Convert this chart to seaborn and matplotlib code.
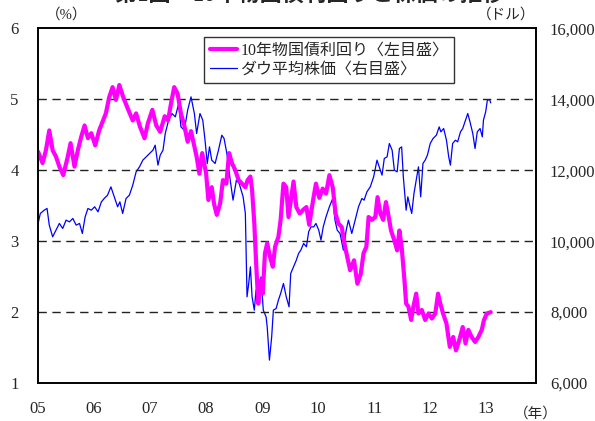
import numpy as np
import pandas as pd
import seaborn as sns
import matplotlib.pyplot as plt

sns.set_style("white")
plt.rcParams["font.family"] = ["Liberation Serif", "Noto Sans CJK JP"]

# 10-year treasury yield (%), time in decimal years
yield_t = [2005.00, 2005.08, 2005.14, 2005.20, 2005.26, 2005.32, 2005.38, 2005.45, 2005.53, 2005.58,
           2005.65, 2005.71, 2005.77, 2005.83, 2005.89, 2005.95, 2006.02, 2006.09, 2006.16, 2006.21,
           2006.27, 2006.33, 2006.39, 2006.45, 2006.52, 2006.60, 2006.69, 2006.75, 2006.82, 2006.90,
           2006.96, 2007.04, 2007.11, 2007.18, 2007.26, 2007.32, 2007.38, 2007.43, 2007.49, 2007.55,
           2007.61, 2007.67, 2007.73, 2007.83, 2007.88, 2007.93, 2008.00, 2008.04, 2008.10, 2008.14,
           2008.19, 2008.25, 2008.30, 2008.36, 2008.41, 2008.46, 2008.52, 2008.58, 2008.64, 2008.70,
           2008.74, 2008.79, 2008.82, 2008.86, 2008.89, 2008.93, 2008.98, 2009.01, 2009.05, 2009.09,
           2009.14, 2009.19, 2009.23, 2009.29, 2009.33, 2009.38, 2009.43, 2009.47, 2009.52, 2009.56,
           2009.61, 2009.67, 2009.73, 2009.79, 2009.84, 2009.91, 2009.96, 2010.02, 2010.08, 2010.14,
           2010.20, 2010.26, 2010.31, 2010.36, 2010.42, 2010.48, 2010.57, 2010.64, 2010.70, 2010.76,
           2010.81, 2010.86, 2010.90, 2010.96, 2011.02, 2011.06, 2011.11, 2011.16, 2011.21, 2011.26,
           2011.30, 2011.36, 2011.41, 2011.45, 2011.49, 2011.54, 2011.57, 2011.61, 2011.66, 2011.70,
           2011.75, 2011.79, 2011.85, 2011.91, 2011.97, 2012.03, 2012.09, 2012.14, 2012.18, 2012.23,
           2012.29, 2012.35, 2012.41, 2012.46, 2012.52, 2012.58, 2012.63, 2012.68, 2012.74, 2012.80,
           2012.86, 2012.92, 2012.96, 2013.01, 2013.08]
yield_pct = [4.26, 4.10, 4.28, 4.56, 4.28, 4.19, 4.05, 3.93, 4.19, 4.38,
             4.05, 4.28, 4.47, 4.63, 4.45, 4.52, 4.35, 4.56, 4.70, 4.80,
             5.03, 5.17, 4.99, 5.20, 5.03, 4.87, 4.70, 4.80, 4.61, 4.45,
             4.66, 4.85, 4.63, 4.54, 4.76, 4.70, 4.97, 5.17, 5.08, 4.80,
             4.63, 4.40, 4.55, 4.19, 3.95, 4.24, 3.95, 3.58, 3.76, 3.53,
             3.37, 3.53, 3.86, 3.81, 4.24, 4.10, 4.00, 3.86, 3.81, 3.76,
             3.86, 3.91, 3.72, 3.25, 2.73, 2.12, 2.45, 2.26, 2.83, 2.97,
             2.78, 2.64, 2.92, 3.06, 3.30, 3.81, 3.76, 3.34, 3.62, 3.84,
             3.48, 3.39, 3.44, 3.48, 3.23, 3.58, 3.81, 3.61, 3.74, 3.67,
             3.93, 3.76, 3.39, 3.25, 3.20, 2.92, 2.59, 2.73, 2.40, 2.54,
             2.83, 2.92, 3.34, 3.30, 3.34, 3.62, 3.39, 3.30, 3.55, 3.34,
             3.15, 3.01, 2.87, 3.15, 2.92, 2.45, 2.12, 2.08, 1.89, 2.08,
             2.26, 1.98, 2.03, 1.89, 1.98, 1.91, 1.98, 2.26, 2.12, 1.98,
             1.84, 1.51, 1.65, 1.46, 1.61, 1.79, 1.56, 1.75, 1.65, 1.58,
             1.65, 1.75, 1.89, 1.98, 2.00]

# Dow Jones average (USD)
dow_t = [2005.00, 2005.04, 2005.11, 2005.16, 2005.20, 2005.26, 2005.32, 2005.38, 2005.44, 2005.50,
         2005.56, 2005.62, 2005.68, 2005.74, 2005.79, 2005.84, 2005.89, 2005.95, 2006.01, 2006.07,
         2006.13, 2006.18, 2006.24, 2006.30, 2006.36, 2006.42, 2006.46, 2006.51, 2006.57, 2006.63,
         2006.69, 2006.75, 2006.81, 2006.87, 2006.93, 2006.99, 2007.05, 2007.09, 2007.14, 2007.18,
         2007.23, 2007.27, 2007.33, 2007.39, 2007.45, 2007.51, 2007.55, 2007.61, 2007.67, 2007.73,
         2007.79, 2007.83, 2007.89, 2007.94, 2007.98, 2008.02, 2008.06, 2008.10, 2008.16, 2008.22,
         2008.28, 2008.32, 2008.37, 2008.43, 2008.48, 2008.54, 2008.59, 2008.66, 2008.70, 2008.73,
         2008.76, 2008.79, 2008.82, 2008.86, 2008.89, 2008.93, 2008.98, 2009.02, 2009.07, 2009.09,
         2009.13, 2009.17, 2009.20, 2009.25, 2009.29, 2009.33, 2009.38, 2009.43, 2009.48, 2009.51,
         2009.56, 2009.61, 2009.65, 2009.69, 2009.74, 2009.79, 2009.83, 2009.87, 2009.92, 2009.96,
         2010.01, 2010.05, 2010.09, 2010.14, 2010.20, 2010.26, 2010.30, 2010.34, 2010.39, 2010.45,
         2010.50, 2010.54, 2010.60, 2010.66, 2010.72, 2010.78, 2010.82, 2010.87, 2010.93, 2010.99,
         2011.05, 2011.09, 2011.14, 2011.18, 2011.23, 2011.27, 2011.32, 2011.36, 2011.41, 2011.45,
         2011.49, 2011.52, 2011.57, 2011.60, 2011.64, 2011.67, 2011.71, 2011.75, 2011.79, 2011.83,
         2011.87, 2011.91, 2011.95, 2012.00, 2012.05, 2012.11, 2012.16, 2012.19, 2012.24, 2012.29,
         2012.33, 2012.36, 2012.40, 2012.45, 2012.49, 2012.54, 2012.58, 2012.63, 2012.67, 2012.71,
         2012.76, 2012.80, 2012.84, 2012.89, 2012.93, 2012.95, 2012.99, 2013.02, 2013.06, 2013.08]
dow_usd = [10499, 10780, 10873, 10921, 10451, 10122, 10310, 10499, 10358, 10592,
           10544, 10639, 10451, 10499, 10216, 10685, 10921, 10873, 10968, 10826,
           11107, 11202, 11296, 11530, 11249, 10968, 11107, 10780, 11202, 11296,
           11577, 11952, 12093, 12282, 12376, 12470, 12563, 12704, 12141, 12423,
           12563, 13033, 13408, 13596, 13502, 13878, 13220, 13127, 13690, 14066,
           13596, 13033, 13596, 13408, 12845, 12188, 12657, 12282, 12188, 12563,
           12986, 12892, 12470, 11718, 11155, 11718, 11624, 11249, 10780, 8431,
           8808, 9276, 8431, 8056, 8620, 8572, 8994, 8056, 7868, 7586,
           6648, 7304, 8056, 8103, 8338, 8526, 8808, 8431, 8150, 9089,
           9276, 9465, 9653, 9746, 9934, 9840, 10262, 10402, 10402, 10499,
           10310, 10028, 10402, 10685, 10968, 11202, 10592, 10310, 10216, 9746,
           10310, 10592, 10216, 10592, 10968, 11202, 11155, 11389, 11530, 11812,
           12282, 12093, 11859, 12329, 12376, 12751, 12563, 12000, 11952, 12610,
           12657, 11812, 10873, 11249, 10968, 10780, 11343, 11718, 12093, 11249,
           12188, 12282, 12423, 12751, 12892, 12986, 13220, 13080, 13173, 12845,
           12376, 12141, 12751, 12845, 12798, 13080, 13173, 13408, 13596, 13361,
           13033, 12610, 13080, 13173, 12939, 13408, 13643, 13972, 13990, 13896]

year_ticks = [2005, 2006, 2007, 2008, 2009, 2010, 2011, 2012, 2013]
year_labels = ["05", "06", "07", "08", "09", "10", "11", "12", "13"]
left_ticks = [1, 2, 3, 4, 5, 6]
right_ticks = [6000, 8000, 10000, 12000, 14000, 16000]

df_y = pd.DataFrame({"t": yield_t, "v": yield_pct})
df_d = pd.DataFrame({"t": dow_t, "v": dow_usd})

fig = plt.figure(figsize=(5.95, 4.21), dpi=100)
ax = fig.add_axes([0.064, 0.090, 0.837, 0.843])
ax2 = ax.twinx()

sns.lineplot(data=df_d, x="t", y="v", ax=ax2, color="#0000FF", linewidth=0.9,
             label="ダウ平均株価〈右目盛〉", legend=False)
sns.lineplot(data=df_y, x="t", y="v", ax=ax, color="#FF00FF", linewidth=3.0,
             label="10年物国債利回り〈左目盛〉", legend=False)
ax.set_zorder(ax2.get_zorder() + 1)
ax.patch.set_visible(False)

for g in [2, 3, 4, 5]:
    ax.axhline(g, color="#222222", linestyle=(0, (6, 4)), linewidth=1.0, zorder=0)

ax.set_xlim(2005, 2013.89)
ax.set_ylim(1, 6)
ax2.set_ylim(6000, 16000)
ax.set_xticks(year_ticks)
ax.set_xticklabels(year_labels)
ax.set_yticks(left_ticks)
ax.set_yticklabels([str(v) for v in left_ticks])
ax2.set_yticks(right_ticks)
ax2.set_yticklabels([f"{v:,}" for v in right_ticks])
ax.set_xlabel("")
ax.set_ylabel("")
ax2.set_ylabel("")

ax.tick_params(axis="x", direction="in", length=5, width=1, pad=13, labelsize=12, top=False)
ax.tick_params(axis="y", length=0, pad=14, labelsize=12)
ax2.tick_params(axis="y", length=0, pad=10, labelsize=12)
for a in (ax, ax2):
    for s in a.spines.values():
        s.set_color("black")
        s.set_linewidth(1.2)

h1, l1 = ax.get_legend_handles_labels()
h2, l2 = ax2.get_legend_handles_labels()
leg = ax.legend(h1 + h2, l1 + l2, loc="upper left", bbox_to_anchor=(0.318, 0.998),
                frameon=True, fancybox=False, fontsize=11.5, handlelength=1.7,
                handletextpad=0.2, borderpad=0.35, labelspacing=0.2)
leg.get_frame().set_edgecolor("black")
leg.get_frame().set_linewidth(1.0)

fig.text(0.112, 0.966, "（%）", ha="center", va="center", fontsize=10.5)
fig.text(0.85, 0.966, "（ドル）", ha="center", va="center", fontsize=10.5)
fig.text(0.90, 0.018, "（年）", ha="center", va="center", fontsize=10.5)
fig.text(0.52, 1.012, "第1図　10年物国債利回りと株価の推移", ha="center", va="center",
         fontsize=16, fontweight="bold")

fig.savefig("out.png", dpi=100)
